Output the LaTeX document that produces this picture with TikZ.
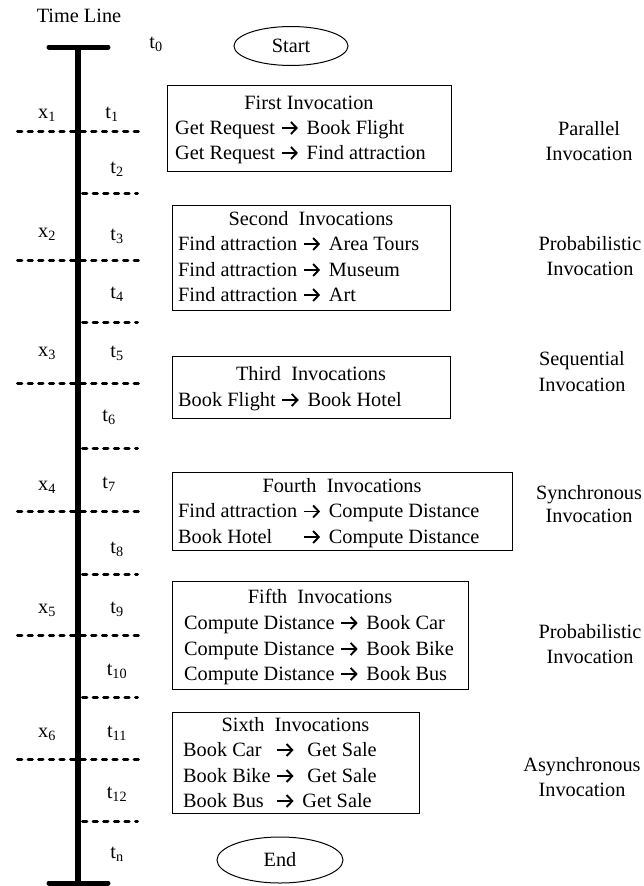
\documentclass[tikz,border=0pt]{standalone}
\usepackage{fontspec}
\setmainfont{Liberation Serif}
\usetikzlibrary{shapes.geometric}
% open-headed bold arrow used between service names
\newcommand{\arr}{\tikz[x=1pt,y=1pt,baseline=0pt]{%
  \useasboundingbox (-1.6,0) rectangle (20,12);
  \draw[line width=1.9pt] (0,6) -- (14.6,6);
  \draw[line width=1.9pt, line join=miter, miter limit=4] (9.3,12) -- (15,6) -- (9.3,0);}}
\newcommand{\sub}[1]{\textsubscript{#1}}
\begin{document}
\begin{tikzpicture}[x=1pt,y=-1pt,
  every node/.style={font=\fontsize{20.3}{25.3}\selectfont, inner sep=0pt},
  invbox/.style={draw, line width=1pt, rectangle},
  oval/.style={draw, line width=1pt, ellipse},
  txt/.style={anchor=base},
  ln/.style={anchor=base west},
  axis/.style={line width=6pt},
  bar/.style={line width=5pt, line cap=round},
  tick/.style={line width=3pt, line cap=round, dash pattern=on 4.3pt off 6.3pt},
]
\useasboundingbox (0,0) rectangle (643,886);

% time axis
\node[txt] (tl) at (79,22) {Time Line};
\coordinate (top) at (78,47);
\coordinate (bot) at (78,883);
\coordinate (topL) at (49,47);  \coordinate (topR) at (108,47);
\coordinate (botL) at (49,883); \coordinate (botR) at (108,883);
\draw[axis] (top) -- (bot);
\draw[bar] (topL) -- (topR);
\draw[bar] (botL) -- (botR);

% dashed separators: full ones cross the axis, short ones start at it
\foreach \y [count=\i] in {131,260,383,511,635,759} {
  \coordinate (fa\i) at (17.5,\y); \coordinate (fb\i) at (140.5,\y);
  \draw[tick] (fa\i) -- (fb\i);
}
\foreach \y [count=\i] in {193,322,448,574,697,821} {
  \coordinate (ha\i) at (82.5,\y); \coordinate (hb\i) at (137.5,\y);
  \draw[tick] (ha\i) -- (hb\i);
}

% interval labels
\node[txt] (x1) at (47,118) {x\sub{1}};
\node[txt] (x2) at (47,237) {x\sub{2}};
\node[txt] (x3) at (47,356) {x\sub{3}};
\node[txt] (x4) at (47,490) {x\sub{4}};
\node[txt] (x5) at (47,613) {x\sub{5}};
\node[txt] (x6) at (47,737) {x\sub{6}};

\node[txt] (t0) at (156,48) {t\sub{0}};
\node[txt] (t1) at (112,118) {t\sub{1}};
\node[txt] (t2) at (117,173) {t\sub{2}};
\node[txt] (t3) at (117,240) {t\sub{3}};
\node[txt] (t4) at (117,298) {t\sub{4}};
\node[txt] (t5) at (117,357) {t\sub{5}};
\node[txt] (t6) at (109,421) {t\sub{6}};
\node[txt] (t7) at (109,488) {t\sub{7}};
\node[txt] (t8) at (117,553) {t\sub{8}};
\node[txt] (t9) at (117,613) {t\sub{9}};
\node[txt] (t10) at (117,675) {t\sub{10}};
\node[txt] (t11) at (117,737) {t\sub{11}};
\node[txt] (t12) at (117,798) {t\sub{12}};
\node[txt] (tn) at (117,858) {t\sub{n}};

% start / end
\node[oval, minimum width=114pt, minimum height=39pt] (start) at (291,46) {Start};
\node[oval, minimum width=126pt, minimum height=46pt] (end) at (280,860) {End};

% first invocation
\node[invbox, minimum width=284pt, minimum height=86pt] (b1) at (309,128) {};
\node[txt] (b1t) at (309,109) {First Invocation};
\node[ln] (b1a) at (175,134) {Get Request \arr{} Book Flight};
\node[ln] (b1b) at (175,159) {Get Request \arr{} Find attraction};

% second invocations
\node[invbox, minimum width=278pt, minimum height=105pt] (b2) at (311,257.5) {};
\node[txt] (b2t) at (311,225) {Second~ Invocations};
\node[ln] (b2a) at (178,250) {Find attraction \arr{} Area Tours};
\node[ln] (b2b) at (178,276) {Find attraction \arr{} Museum};
\node[ln] (b2c) at (178,301) {Find attraction \arr{} Art};

% third invocations
\node[invbox, minimum width=278pt, minimum height=62pt] (b3) at (311,387) {};
\node[txt] (b3t) at (311,380) {Third~ Invocations};
\node[ln] (b3a) at (178,406) {Book Flight \arr{} Book Hotel};

% fourth invocations
\node[invbox, minimum width=340pt, minimum height=78pt] (b4) at (342,511) {};
\node[txt] (b4t) at (342,492.5) {Fourth~ Invocations};
\node[ln] (b4a) at (178,517.5) {Find attraction \arr{} Compute Distance};
\node[ln] (b4b) at (178,543) {\rlap{Book Hotel}\phantom{Find attraction} \arr{} Compute Distance};

% fifth invocations
\node[invbox, minimum width=296pt, minimum height=108pt] (b5) at (320,635) {};
\node[txt] (b5t) at (320,603) {Fifth~ Invocations};
\node[ln] (b5a) at (184,629) {Compute Distance \arr{} Book Car};
\node[ln] (b5b) at (184,655) {Compute Distance \arr{} Book Bike};
\node[ln] (b5c) at (184,680) {Compute Distance \arr{} Book Bus};

% sixth invocations
\node[invbox, minimum width=247pt, minimum height=101pt] (b6) at (295.5,762.5) {};
\node[txt] (b6t) at (295.5,731) {Sixth~ Invocations};
\node[ln] (b6a) at (183,756) {\rlap{Book Car}\phantom{Book Bike} \arr{}~ Get Sale};
\node[ln] (b6b) at (183,782) {Book Bike \arr{}~ Get Sale};
\node[ln] (b6c) at (183,807) {\rlap{Book Bus}\phantom{Book Bike} \arr{} Get Sale};

% invocation kinds
\node[txt] (k1a) at (589,135) {Parallel};
\node[txt] (k1b) at (589,160) {Invocation};
\node[txt] (k2a) at (590,250) {Probabilistic};
\node[txt] (k2b) at (590,275) {Invocation};
\node[txt] (k3a) at (582,365) {Sequential};
\node[txt] (k3b) at (582,391) {Invocation};
\node[txt] (k4a) at (589,499) {Synchronous};
\node[txt] (k4b) at (589,522) {Invocation};
\node[txt] (k5a) at (590,638) {Probabilistic};
\node[txt] (k5b) at (590,663) {Invocation};
\node[txt] (k6a) at (582,771) {Asynchronous};
\node[txt] (k6b) at (582,796) {Invocation};
\end{tikzpicture}
\end{document}
